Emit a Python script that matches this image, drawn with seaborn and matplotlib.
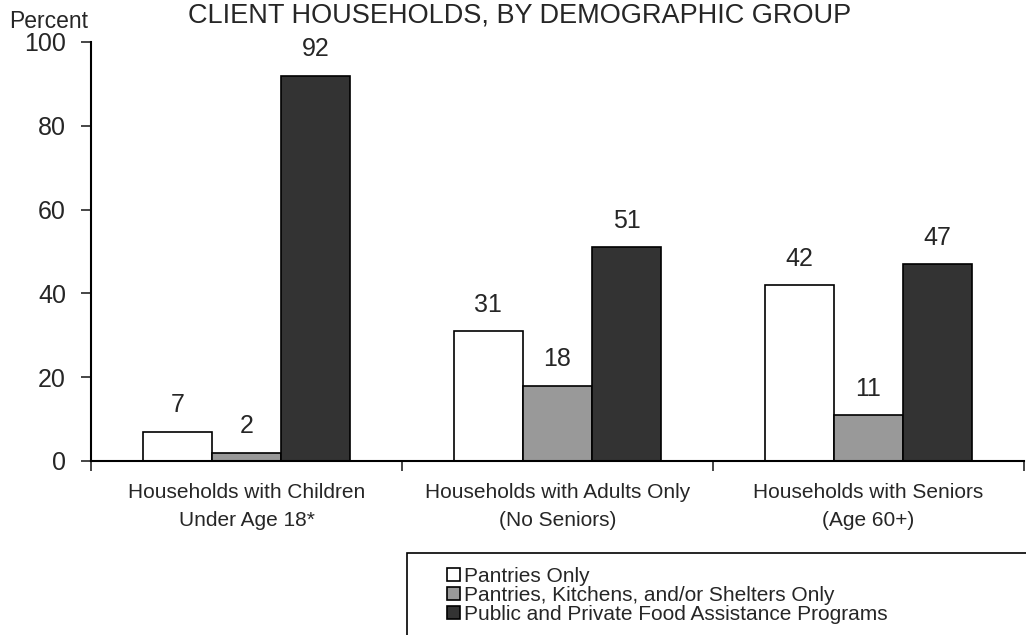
import matplotlib
matplotlib.use("Agg")
import matplotlib.pyplot as plt
from matplotlib.patches import Rectangle
from matplotlib.ticker import FixedLocator
import seaborn as sns
import pandas as pd

# Share of client households using each kind of program, by group
groups = [
    "Households with Children\nUnder Age 18*",
    "Households with Adults Only\n(No Seniors)",
    "Households with Seniors\n(Age 60+)",
]
programs = [
    "Pantries Only",
    "Pantries, Kitchens, and/or Shelters Only",
    "Public and Private Food Assistance Programs",
]
pantries_only = [7, 31, 42]
pantries_kitchens_shelters = [2, 18, 11]
public_private = [92, 51, 47]
colors = ["#ffffff", "#999999", "#333333"]

rows = []
for prog, vals in zip(programs, [pantries_only, pantries_kitchens_shelters, public_private]):
    for g, v in zip(groups, vals):
        rows.append({"group": g, "program": prog, "pct": v})
df = pd.DataFrame(rows)

sns.set_style("white")
plt.rcParams["font.family"] = ["Liberation Sans", "DejaVu Sans"]

fig = plt.figure(figsize=(10.26, 6.35), dpi=100)
ax = fig.add_axes([91 / 1026, 1 - 461 / 635, (1024 - 91) / 1026, (461 - 42) / 635])

sns.barplot(
    data=df, x="group", y="pct", hue="program", order=groups, hue_order=programs,
    palette=colors, width=0.667, edgecolor="black", linewidth=1.2,
    saturation=1, legend=True, ax=ax,
)

# value labels above each bar
for cont in ax.containers:
    for bar in cont:
        h = bar.get_height()
        ax.annotate(f"{h:.0f}", (bar.get_x() + bar.get_width() / 2, h),
                    xytext=(0, 19), textcoords="offset points",
                    ha="center", va="center", fontsize=18)

ax.set_xlim(-0.5, 2.5)
ax.set_ylim(0, 100)
ax.set_yticks([0, 20, 40, 60, 80, 100])
ax.tick_params(axis="y", labelsize=18, length=7, width=1.2, direction="out", pad=11, left=True)
ax.xaxis.set_minor_locator(FixedLocator([-0.5, 0.5, 1.5, 2.5]))
ax.tick_params(axis="x", which="major", length=0, labelsize=15, pad=16)
ax.tick_params(axis="x", which="minor", length=7, width=1.2, direction="out", bottom=True)
for lbl in ax.get_xticklabels():
    lbl.set_linespacing(1.6)
ax.set_xlabel("")
ax.set_ylabel("")
for s in ["top", "right"]:
    ax.spines[s].set_visible(False)
for s in ["left", "bottom"]:
    ax.spines[s].set_color("black")
    ax.spines[s].set_linewidth(1.5)

fig.text(9 / 1026, 1 - 21 / 635, "Percent", fontsize=16.5, ha="left", va="center")
fig.text(520 / 1026, 1 - 15 / 635, "CLIENT HOUSEHOLDS, BY DEMOGRAPHIC GROUP",
         fontsize=19.5, ha="center", va="center")

# legend in an open box at the lower right
handles, labels = ax.get_legend_handles_labels()
ax.get_legend().remove()
fig.patches.append(Rectangle((407 / 1026, -0.05), 0.7, (1 - 553 / 635) + 0.05,
                             transform=fig.transFigure, fill=False,
                             edgecolor="black", linewidth=1.2))
fig.legend(handles, labels, loc="upper left",
           bbox_to_anchor=(447 / 1026, 1 - 567 / 635), bbox_transform=fig.transFigure,
           frameon=False, fontsize=15, handlelength=0.6, handleheight=0.6,
           handletextpad=0.2, labelspacing=0.0, borderpad=0, borderaxespad=0)

fig.savefig("out.png", dpi=100)
